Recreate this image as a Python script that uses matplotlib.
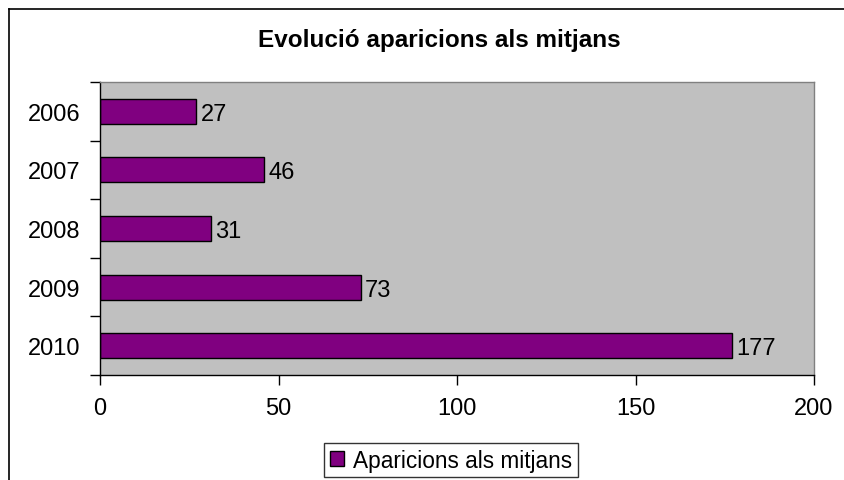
import matplotlib.pyplot as plt
from matplotlib.lines import Line2D
from matplotlib.patches import Patch

years = ["2006", "2007", "2008", "2009", "2010"]
counts = [27, 46, 31, 73, 177]
xticks = [0, 50, 100, 150, 200]
series_name = "Aparicions als mitjans"

W, H = 845, 481
plt.rcParams["font.family"] = ["Liberation Sans", "DejaVu Sans"]

fig = plt.figure(figsize=(W / 100, H / 100), dpi=100)
ax = fig.add_axes([100 / W, 1 - 376 / H, 714 / W, 293 / H])

pos = list(range(len(years)))
ax.barh(pos, counts, height=0.43, color="#800080", edgecolor="black", linewidth=1)
for p, v in zip(pos, counts):
    ax.text(v + 1.2, p, str(v), va="center_baseline", ha="left", fontsize=17)

ax.set_xlim(0, 200)
ax.set_ylim(len(years) - 0.5, -0.5)
ax.set_facecolor("#C0C0C0")
ax.set_xticks(xticks)
ax.set_xticklabels([str(t) for t in xticks], fontsize=17)
ax.set_yticks(pos)
ax.set_yticklabels(years, fontsize=17, va="center_baseline")
ax.tick_params(axis="y", length=0, pad=14)
ax.set_yticks([p - 0.5 for p in pos] + [len(years) - 0.5], minor=True)
ax.tick_params(axis="y", which="minor", length=7, width=1, direction="out")
ax.tick_params(axis="x", length=7, width=1, direction="out", pad=9)

for side in ("top", "right"):
    ax.spines[side].set_color("#808080")
    ax.spines[side].set_linewidth(1)
for side in ("left", "bottom"):
    ax.spines[side].set_color("black")
    ax.spines[side].set_linewidth(1)

fig.text(439 / W, 1 - 40 / H, "Evolució aparicions als mitjans", ha="center", va="center",
         fontsize=17.5, fontweight="bold")

# chart outer frame (left and top edges visible)
fig.add_artist(Line2D([9 / W, 9 / W], [0, 1 - 10 / H], color="black", linewidth=1.2,
                      transform=fig.transFigure))
fig.add_artist(Line2D([9 / W, 1], [1 - 10 / H, 1 - 10 / H], color="black", linewidth=1.2,
                      transform=fig.transFigure))

leg = fig.legend(handles=[Patch(facecolor="#800080", edgecolor="black", label=series_name)],
                 loc="upper center", bbox_to_anchor=(451 / W, 1 - 444 / H), fontsize=16.3,
                 frameon=True, fancybox=False, handlelength=0.6, handleheight=0.6,
                 handletextpad=0.4, borderpad=0.25, borderaxespad=0)
leg.get_frame().set_edgecolor("black")
leg.get_frame().set_linewidth(1)

fig.savefig("out.png", dpi=100)
